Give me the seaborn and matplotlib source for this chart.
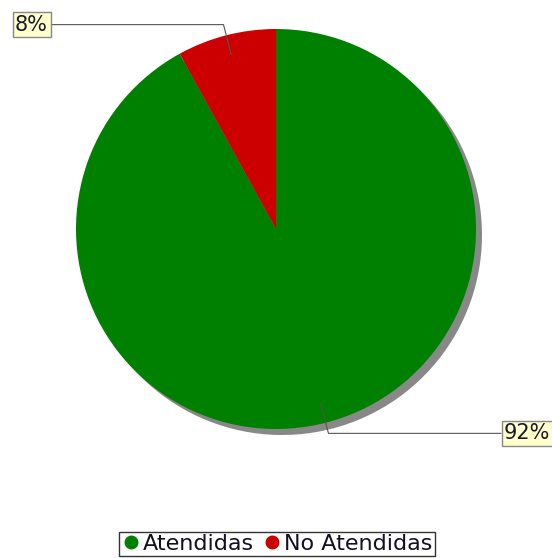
import numpy as np
import matplotlib
matplotlib.use("Agg")
import matplotlib.pyplot as plt
from matplotlib.lines import Line2D
import seaborn as sns

# datos
categorias = ["Atendidas", "No Atendidas"]
valores = [92, 8]
etiquetas = ["92%", "8%"]
colores = ["#008000", "#cc0000"]

sns.set_style("white")
plt.rcParams['font.family'] = ['DejaVu Sans']

W, H = 552, 558
fig = plt.figure(figsize=(W / 100, H / 100), dpi=100)
ax = fig.add_axes([0, 0, 1, 1])

cx, cy, r = 276, H - 229, 200

# sombra
ax.pie(valores, colors=["#888888"] * 2, radius=r, center=(cx + 6, cy - 6),
       startangle=90, counterclock=False, frame=True,
       wedgeprops=dict(linewidth=0))
ax.pie(valores, colors=colores, radius=r, center=(cx, cy),
       startangle=90, counterclock=False, frame=True,
       wedgeprops=dict(linewidth=0))
ax.set_xlim(0, W)
ax.set_ylim(0, H)
ax.set_aspect("equal")
ax.axis("off")

# etiquetas con lineas guia
total = sum(valores)
inicio = 90
label_x = {"92%": 501, "8%": 51}
for val, txt in zip(valores, etiquetas):
    ang = inicio - val / total * 360 / 2
    inicio -= val / total * 360
    a = np.deg2rad(ang)
    x0, y0 = cx + 0.9 * r * np.cos(a), cy + 0.9 * r * np.sin(a)
    x1, y1 = cx + 1.055 * r * np.cos(a), cy + 1.055 * r * np.sin(a)
    xl = label_x[txt]
    ax.plot([x0, x1, xl], [y0, y1, y1], color="#555555", lw=0.8)
    ha = "left" if xl > cx else "right"
    ax.text(xl + (3 if ha == "left" else -3), y1, txt, ha=ha, va="center",
            fontsize=15, color="#1a1a2a",
            bbox=dict(boxstyle="square,pad=0.12", fc="#ffffcc", ec="#888888", lw=1))

handles = [Line2D([], [], marker="o", ls="", color=c, markersize=9) for c in colores]
leg = ax.legend(handles, categorias, loc="center", bbox_to_anchor=(277 / W, 1 - 544 / H),
                ncol=2, frameon=True, fontsize=16, handletextpad=0.15, columnspacing=0.4,
                handlelength=0.8, borderpad=0.1, fancybox=False, borderaxespad=0)
leg.get_frame().set_edgecolor("black")
leg.get_frame().set_linewidth(1)
for t in leg.get_texts():
    t.set_color("#111122")

fig.savefig("out.png", dpi=100)
